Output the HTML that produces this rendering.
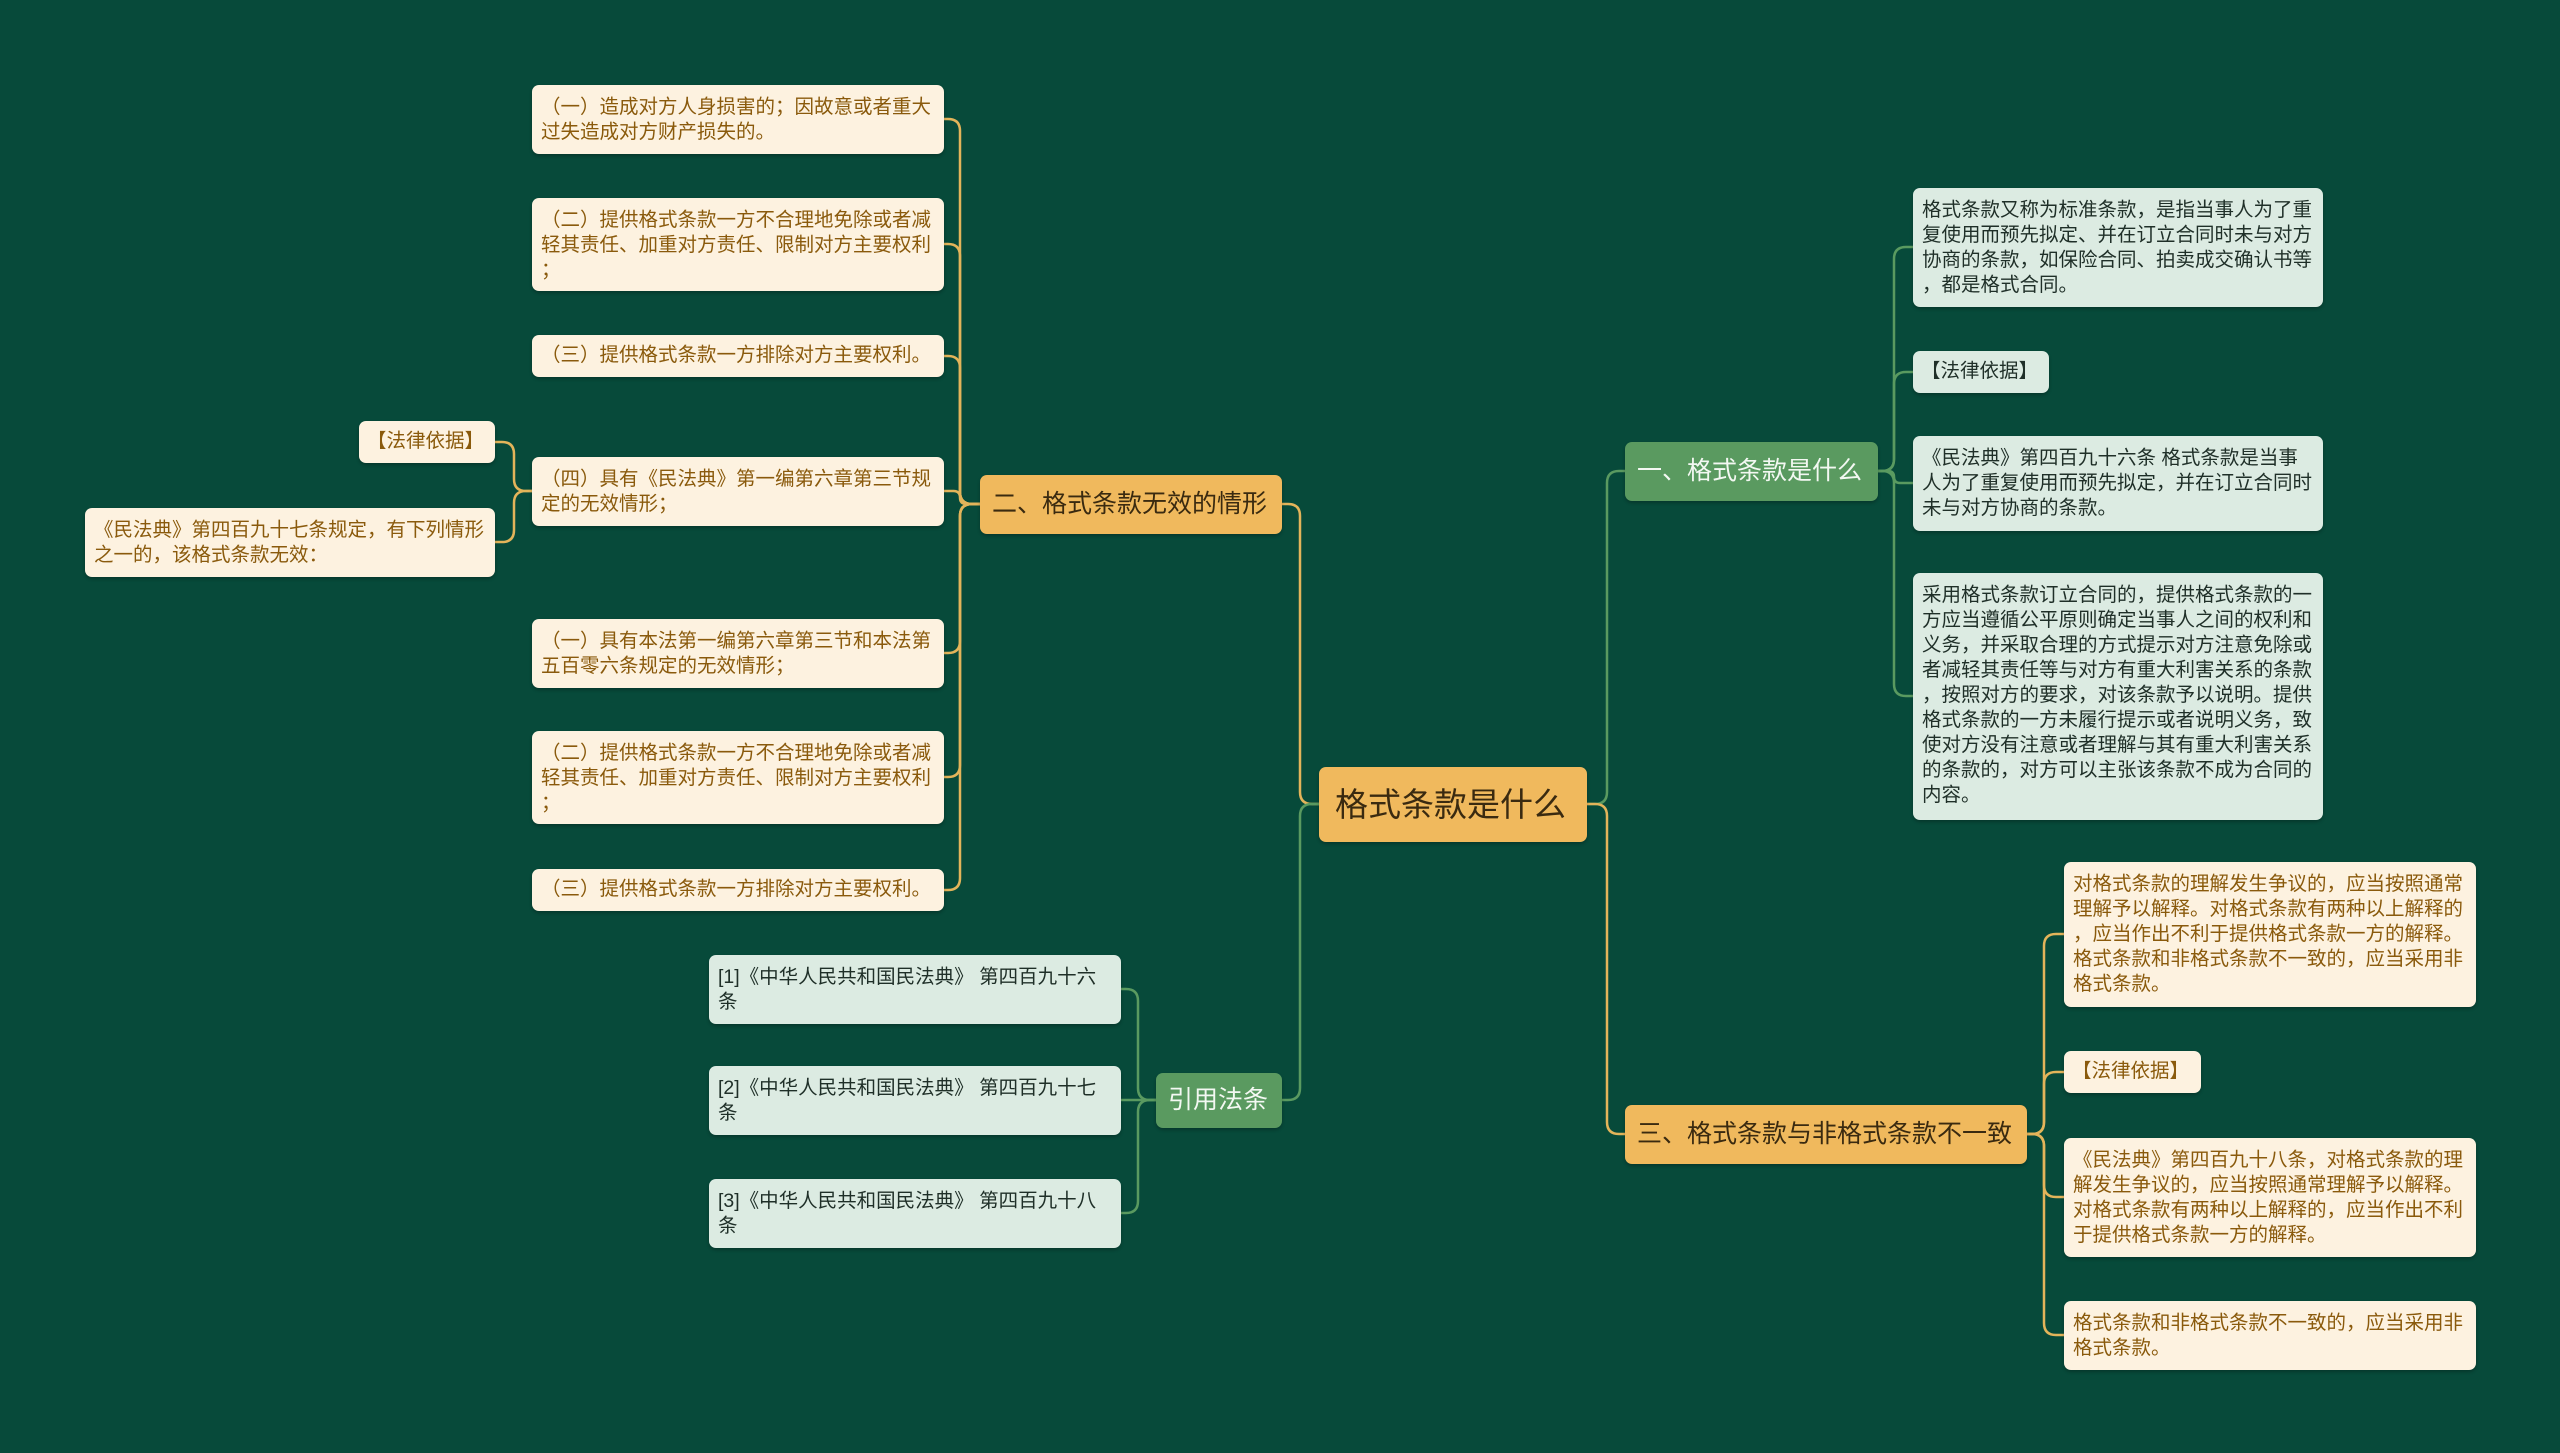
<!DOCTYPE html>
<html><head><meta charset="utf-8">
<style>
html,body{margin:0;padding:0}
body{width:2560px;height:1453px;background:#074a3a;position:relative;overflow:hidden;font-family:"Liberation Sans","Noto Sans CJK SC",sans-serif}
.n{position:absolute;box-sizing:border-box;border-radius:7px;font-size:19.5px;line-height:25px;padding:10px 9px;box-shadow:0 2px 3px rgba(0,0,0,.25);line-break:anywhere}
.c{background:#fdf2e0;color:#8a5a0c}
.m{background:#dcebe2;color:#1f2f28}
.o{background:#f0b95d;color:#3a2a10;font-size:25px;line-height:59px;padding:0 12px;white-space:nowrap}
.g{background:#5a9a60;color:#f3f8f2;font-size:25px;line-height:59px;padding:0 12px;white-space:nowrap}
.r{padding-right:14px}
svg{position:absolute;left:0;top:0}
</style></head><body>
<svg id="s" width="2560" height="1453"></svg>

<div class="n o" style="left:1319px;top:767px;width:268px;height:75px;font-size:33px;line-height:75px;padding:0 16px">格式条款是什么</div>

<div class="n g" style="left:1625px;top:442px;width:253px;height:59px">一、格式条款是什么</div>
<div class="n m" style="left:1913px;top:188px;width:410px;height:119px">格式条款又称为标准条款，是指当事人为了重复使用而预先拟定、并在订立合同时未与对方协商的条款，如保险合同、拍卖成交确认书等，都是格式合同。</div>
<div class="n m" style="left:1913px;top:351px;width:136px;height:42px;padding:8px 8px">【法律依据】</div>
<div class="n m" style="left:1913px;top:436px;width:410px;height:95px">《民法典》第四百九十六条 格式条款是当事人为了重复使用而预先拟定，并在订立合同时未与对方协商的条款。</div>
<div class="n m" style="left:1913px;top:573px;width:410px;height:247px">采用格式条款订立合同的，提供格式条款的一方应当遵循公平原则确定当事人之间的权利和义务，并采取合理的方式提示对方注意免除或者减轻其责任等与对方有重大利害关系的条款，按照对方的要求，对该条款予以说明。提供格式条款的一方未履行提示或者说明义务，致使对方没有注意或者理解与其有重大利害关系的条款的，对方可以主张该条款不成为合同的内容。</div>

<div class="n o" style="left:1625px;top:1105px;width:402px;height:59px">三、格式条款与非格式条款不一致</div>
<div class="n c" style="left:2064px;top:862px;width:412px;height:145px">对格式条款的理解发生争议的，应当按照通常理解予以解释。对格式条款有两种以上解释的，应当作出不利于提供格式条款一方的解释。格式条款和非格式条款不一致的，应当采用非格式条款。</div>
<div class="n c" style="left:2064px;top:1051px;width:137px;height:42px;padding:8px 8px">【法律依据】</div>
<div class="n c" style="left:2064px;top:1138px;width:412px;height:119px">《民法典》第四百九十八条，对格式条款的理解发生争议的，应当按照通常理解予以解释。对格式条款有两种以上解释的，应当作出不利于提供格式条款一方的解释。</div>
<div class="n c" style="left:2064px;top:1301px;width:412px;height:69px">格式条款和非格式条款不一致的，应当采用非格式条款。</div>

<div class="n o" style="left:980px;top:475px;width:302px;height:59px">二、格式条款无效的情形</div>
<div class="n c" style="left:532px;top:85px;width:412px;height:69px">（一）造成对方人身损害的；因故意或者重大过失造成对方财产损失的。</div>
<div class="n c" style="left:532px;top:198px;width:412px;height:93px">（二）提供格式条款一方不合理地免除或者减轻其责任、加重对方责任、限制对方主要权利；</div>
<div class="n c" style="left:532px;top:335px;width:412px;height:42px;padding:8px 9px">（三）提供格式条款一方排除对方主要权利。</div>
<div class="n c" style="left:532px;top:457px;width:412px;height:69px">（四）具有《民法典》第一编第六章第三节规定的无效情形；</div>
<div class="n c" style="left:532px;top:619px;width:412px;height:69px">（一）具有本法第一编第六章第三节和本法第五百零六条规定的无效情形；</div>
<div class="n c" style="left:532px;top:731px;width:412px;height:93px">（二）提供格式条款一方不合理地免除或者减轻其责任、加重对方责任、限制对方主要权利；</div>
<div class="n c" style="left:532px;top:869px;width:412px;height:42px;padding:8px 9px">（三）提供格式条款一方排除对方主要权利。</div>
<div class="n c" style="left:359px;top:421px;width:136px;height:42px;padding:8px 8px">【法律依据】</div>
<div class="n c" style="left:85px;top:508px;width:410px;height:69px">《民法典》第四百九十七条规定，有下列情形之一的，该格式条款无效：</div>

<div class="n g" style="left:1156px;top:1073px;width:126px;height:55px;line-height:55px">引用法条</div>
<div class="n m r" style="left:709px;top:955px;width:412px;height:69px">[1]《中华人民共和国民法典》 第四百九十六条</div>
<div class="n m r" style="left:709px;top:1066px;width:412px;height:69px">[2]《中华人民共和国民法典》 第四百九十七条</div>
<div class="n m r" style="left:709px;top:1179px;width:412px;height:69px">[3]《中华人民共和国民法典》 第四百九十八条</div>

<script>
var O="#e3b45a",G="#5a9a60",s=document.getElementById('s'),h='';
function L(x1,y1,xm,y2,x2,c){var r=Math.min(12,Math.abs(y2-y1)/2),d=y2>y1?1:-1,dx1=xm>x1?1:-1,dx2=x2>xm?1:-1;
if(Math.abs(y2-y1)<1){h+='<path d="M'+x1+' '+y1+'H'+x2+'" stroke="'+c+'" stroke-width="2.5" fill="none"/>';return;}
h+='<path d="M'+x1+' '+y1+'H'+(xm-dx1*r)+'Q'+xm+' '+y1+' '+xm+' '+(y1+d*r)+'V'+(y2-d*r)+'Q'+xm+' '+y2+' '+(xm+dx2*r)+' '+y2+'H'+x2+'" stroke="'+c+'" stroke-width="2.5" fill="none"/>';}
L(1587,804,1607,471,1625,G);L(1587,804,1607,1134,1625,O);
L(1319,804,1300,504,1282,O);L(1319,804,1300,1100,1282,G);
[247,372,483,696].forEach(function(y){L(1878,471,1894,y,1913,G)});
[934,1072,1197,1335].forEach(function(y){L(2027,1134,2044,y,2064,O)});
[119,244,356,491,653,777,890].forEach(function(y){L(980,504,960,y,944,O)});
L(532,491,514,442,495,O);L(532,491,514,542,495,O);
[989,1100,1213].forEach(function(y){L(1156,1100,1138,y,1121,G)});
s.innerHTML=h;
</script>
</body></html>
